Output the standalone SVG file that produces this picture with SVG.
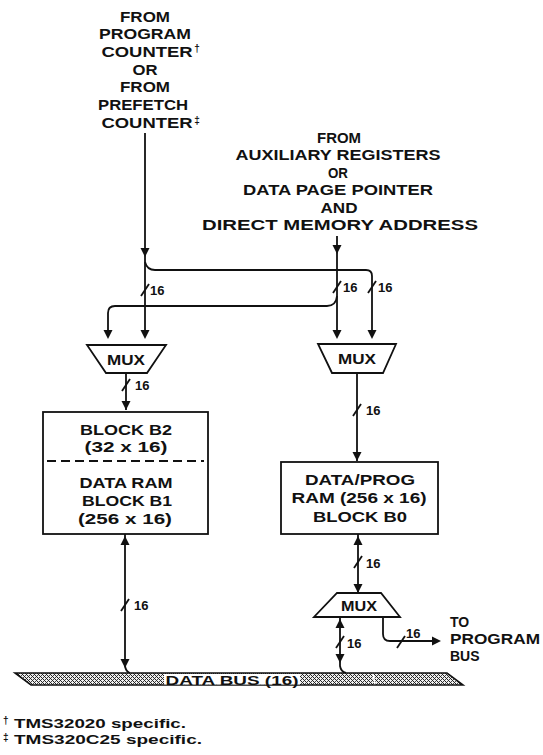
<svg xmlns="http://www.w3.org/2000/svg" width="543" height="755" viewBox="0 0 543 755">
<style>
.t{font-family:"Liberation Sans",Arial,sans-serif;font-weight:bold;font-size:14px;fill:#111;text-anchor:middle}
.s{font-size:13px;text-anchor:start}
.ln{fill:none;stroke:#111;stroke-width:1.8}
.box{fill:#fff;stroke:#111;stroke-width:1.8}
.ah{fill:#111}
</style>
<defs>
<path id="ad" class="ah" d="M-4.5,-9 L4.5,-9 L0,0 Z"/>
<path id="au" class="ah" d="M-4.5,9 L4.5,9 L0,0 Z"/>
<path id="sl" class="ln" d="M-4,6 L4,-6"/>
<pattern id="dots" width="4" height="4" patternUnits="userSpaceOnUse">
<rect width="4" height="4" fill="#eee"/>
<rect x="0" y="0" width="1" height="1" fill="#222"/>
<rect x="1" y="1" width="1" height="1" fill="#222"/>
<rect x="2" y="2" width="1" height="1" fill="#222"/>
<rect x="3" y="3" width="1" height="1" fill="#222"/>
<rect x="3" y="1" width="1" height="1" fill="#444"/>
<rect x="1" y="3" width="1" height="1" fill="#444"/>
</pattern>
</defs>
<rect width="543" height="755" fill="#fff"/>

<g id="src_left">
<text class="t" x="145" y="22" textLength="50" lengthAdjust="spacingAndGlyphs">FROM</text>
<text class="t" x="145" y="39" textLength="92" lengthAdjust="spacingAndGlyphs">PROGRAM</text>
<text class="t" x="147" y="57" textLength="91" lengthAdjust="spacingAndGlyphs">COUNTER</text>
<text class="t" x="197" y="52" style="font-size:10px">†</text>
<text class="t" x="145" y="75" textLength="25" lengthAdjust="spacingAndGlyphs">OR</text>
<text class="t" x="145" y="92" textLength="50" lengthAdjust="spacingAndGlyphs">FROM</text>
<text class="t" x="143" y="110" textLength="90" lengthAdjust="spacingAndGlyphs">PREFETCH</text>
<text class="t" x="147" y="128" textLength="91" lengthAdjust="spacingAndGlyphs">COUNTER</text>
<text class="t" x="197" y="124" style="font-size:10px">‡</text>
</g>

<g id="src_right">
<text class="t" x="339" y="143" textLength="44" lengthAdjust="spacingAndGlyphs">FROM</text>
<text class="t" x="338" y="160" textLength="205" lengthAdjust="spacingAndGlyphs">AUXILIARY REGISTERS</text>
<text class="t" x="338" y="178" textLength="20" lengthAdjust="spacingAndGlyphs">OR</text>
<text class="t" x="338" y="195" textLength="190" lengthAdjust="spacingAndGlyphs">DATA PAGE POINTER</text>
<text class="t" x="339" y="213" textLength="37" lengthAdjust="spacingAndGlyphs">AND</text>
<text class="t" x="340" y="230" textLength="276" lengthAdjust="spacingAndGlyphs">DIRECT MEMORY ADDRESS</text>
</g>

<g id="connectors">
<path class="ln" d="M145,133 L145,337"/>
<use href="#ad" x="145" y="257"/>
<path class="ln" d="M145,262 Q147,270 155,270 L366,270 Q372,270 372,276 L372,336"/>
<use href="#sl" x="145" y="290"/>
<text class="t s" x="150" y="295">16</text>
<path class="ln" d="M337,236 L337,337"/>
<use href="#ad" x="337" y="254"/>
<path class="ln" d="M337,296 Q336,306 327,306 L115,306 Q108,306 108,313 L108,337"/>
<use href="#sl" x="337" y="287"/>
<text class="t s" x="343" y="292">16</text>
<use href="#sl" x="372" y="287"/>
<text class="t s" x="378" y="292">16</text>
<use href="#ad" x="108" y="339"/>
<use href="#ad" x="145" y="339"/>
<use href="#ad" x="337" y="339"/>
<use href="#ad" x="372" y="339"/>
<path class="ln" d="M126,373 L126,410"/>
<use href="#sl" x="126" y="385"/>
<text class="t s" x="135" y="390">16</text>
<use href="#ad" x="126" y="410"/>
<path class="ln" d="M125,534 L125,666 Q126,672 130,673"/>
<use href="#au" x="125" y="536"/>
<use href="#sl" x="125" y="605"/>
<text class="t s" x="134" y="610">16</text>
<use href="#ad" x="125" y="668"/>
<path class="ln" d="M357,373 L357,461"/>
<use href="#sl" x="357" y="410"/>
<text class="t s" x="366" y="415">16</text>
<use href="#ad" x="357" y="461"/>
<path class="ln" d="M358,534 L358,593"/>
<use href="#au" x="358" y="536"/>
<use href="#sl" x="358" y="562"/>
<text class="t s" x="366" y="568">16</text>
<use href="#ad" x="358" y="593"/>
<path class="ln" d="M340,617 L340,666 Q341,672 346,673"/>
<use href="#au" x="340" y="619"/>
<use href="#sl" x="340" y="642"/>
<text class="t s" x="347" y="648">16</text>
<use href="#ad" x="340" y="663"/>
<path class="ln" d="M383,617 L383,634 Q383,641 390,641 L432,641"/>
<path class="ah" d="M432,636.5 L441,641 L432,645.5 Z"/>
<use href="#sl" x="401" y="642"/>
<text class="t s" x="406" y="638">16</text>
</g>

<g id="mux_left">
<path class="box" d="M87,345 L166,345 L147,373 L106,373 Z"/>
<text class="t" x="126" y="365" textLength="38" lengthAdjust="spacingAndGlyphs">MUX</text>
</g>
<g id="mux_right">
<path class="box" d="M318,344 L396,344 L383,373 L332,373 Z"/>
<text class="t" x="357" y="364" textLength="38" lengthAdjust="spacingAndGlyphs">MUX</text>
</g>
<g id="mux_bottom">
<path class="box" d="M337,593 L381,593 L400,617 L314,617 Z"/>
<text class="t" x="359" y="611" textLength="36" lengthAdjust="spacingAndGlyphs">MUX</text>
</g>

<g id="block_b2_b1">
<rect class="box" x="43" y="412" width="165" height="122"/>
<path class="ln" d="M47,461 L204,461" stroke-dasharray="9,5"/>
<text class="t" x="126" y="435" textLength="92" lengthAdjust="spacingAndGlyphs">BLOCK B2</text>
<text class="t" x="126" y="452" textLength="83" lengthAdjust="spacingAndGlyphs">(32 x 16)</text>
<text class="t" x="126" y="488" textLength="93" lengthAdjust="spacingAndGlyphs">DATA RAM</text>
<text class="t" x="127" y="506" textLength="90" lengthAdjust="spacingAndGlyphs">BLOCK B1</text>
<text class="t" x="125" y="524" textLength="94" lengthAdjust="spacingAndGlyphs">(256 x 16)</text>
</g>

<g id="block_b0">
<rect class="box" x="281" y="462" width="157" height="72"/>
<text class="t" x="360" y="485" textLength="110" lengthAdjust="spacingAndGlyphs">DATA/PROG</text>
<text class="t" x="359" y="503" textLength="135" lengthAdjust="spacingAndGlyphs">RAM (256 x 16)</text>
<text class="t" x="360" y="522" textLength="94" lengthAdjust="spacingAndGlyphs">BLOCK B0</text>
</g>

<g id="program_bus">
<text class="t" x="450" y="627" style="text-anchor:start">TO</text>
<text class="t" x="450" y="644" style="text-anchor:start" textLength="90" lengthAdjust="spacingAndGlyphs">PROGRAM</text>
<text class="t" x="450" y="661" style="text-anchor:start">BUS</text>
</g>

<g id="data_bus">
<path d="M15,673 L447,673 L463,685 L31,685 Z" fill="url(#dots)" stroke="#111" stroke-width="1.6"/>
<path d="M373,674 L375,684" stroke="#fff" stroke-width="1.5"/>
<rect x="164" y="674" width="136" height="10.5" fill="#fff"/>
<text class="t" x="232" y="685" textLength="133" lengthAdjust="spacingAndGlyphs" style="font-size:13.5px">DATA BUS (16)</text>
</g>

<g id="footnotes">
<text class="t" x="3" y="724" style="font-size:10px;text-anchor:start">†</text>
<text class="t" x="14" y="728" textLength="172" lengthAdjust="spacingAndGlyphs" style="font-size:13.5px;text-anchor:start">TMS32020 specific.</text>
<text class="t" x="3" y="741" style="font-size:10px;text-anchor:start">‡</text>
<text class="t" x="14" y="744" textLength="188" lengthAdjust="spacingAndGlyphs" style="font-size:13.5px;text-anchor:start">TMS320C25 specific.</text>
</g>
</svg>
